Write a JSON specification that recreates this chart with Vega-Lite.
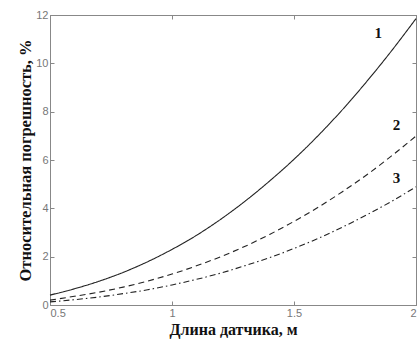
{
  "$schema": "https://vega.github.io/schema/vega-lite/v6.json",
  "width": 366,
  "height": 290,
  "autosize": {"type": "none"},
  "padding": {"left": 50, "top": 15, "right": 2, "bottom": 35},
  "background": "white",
  "config": {
    "view": {"stroke": "#888", "strokeWidth": 1},
    "axis": {
      "grid": false,
      "domainColor": "#888",
      "tickColor": "#888",
      "labelColor": "#777",
      "labelFont": "Liberation Sans",
      "labelFontSize": 11,
      "tickSize": -4,
      "labelPadding": 6,
      "labelExpr": "'' + datum.value"
    }
  },
  "datasets": {
    "curves": [
      {"x": 0.5, "y": 0.41, "s": "1"}, {"x": 0.6, "y": 0.67, "s": "1"}, {"x": 0.7, "y": 0.98, "s": "1"}, {"x": 0.8, "y": 1.35, "s": "1"},
      {"x": 0.9, "y": 1.79, "s": "1"}, {"x": 1.0, "y": 2.3, "s": "1"}, {"x": 1.1, "y": 2.88, "s": "1"}, {"x": 1.2, "y": 3.55, "s": "1"},
      {"x": 1.3, "y": 4.3, "s": "1"}, {"x": 1.4, "y": 5.13, "s": "1"}, {"x": 1.5, "y": 6.03, "s": "1"}, {"x": 1.6, "y": 7.02, "s": "1"},
      {"x": 1.7, "y": 8.1, "s": "1"}, {"x": 1.8, "y": 9.27, "s": "1"}, {"x": 1.9, "y": 10.52, "s": "1"}, {"x": 2.0, "y": 11.85, "s": "1"},
      {"x": 0.5, "y": 0.2, "s": "2"}, {"x": 0.6, "y": 0.36, "s": "2"}, {"x": 0.7, "y": 0.53, "s": "2"}, {"x": 0.8, "y": 0.74, "s": "2"},
      {"x": 0.9, "y": 0.99, "s": "2"}, {"x": 1.0, "y": 1.28, "s": "2"}, {"x": 1.1, "y": 1.62, "s": "2"}, {"x": 1.2, "y": 2.0, "s": "2"},
      {"x": 1.3, "y": 2.43, "s": "2"}, {"x": 1.4, "y": 2.92, "s": "2"}, {"x": 1.5, "y": 3.46, "s": "2"}, {"x": 1.6, "y": 4.05, "s": "2"},
      {"x": 1.7, "y": 4.7, "s": "2"}, {"x": 1.8, "y": 5.4, "s": "2"}, {"x": 1.9, "y": 6.17, "s": "2"}, {"x": 2.0, "y": 6.99, "s": "2"},
      {"x": 0.5, "y": 0.13, "s": "3"}, {"x": 0.6, "y": 0.22, "s": "3"}, {"x": 0.7, "y": 0.33, "s": "3"}, {"x": 0.8, "y": 0.47, "s": "3"},
      {"x": 0.9, "y": 0.63, "s": "3"}, {"x": 1.0, "y": 0.83, "s": "3"}, {"x": 1.1, "y": 1.06, "s": "3"}, {"x": 1.2, "y": 1.32, "s": "3"},
      {"x": 1.3, "y": 1.63, "s": "3"}, {"x": 1.4, "y": 1.96, "s": "3"}, {"x": 1.5, "y": 2.34, "s": "3"}, {"x": 1.6, "y": 2.76, "s": "3"},
      {"x": 1.7, "y": 3.23, "s": "3"}, {"x": 1.8, "y": 3.74, "s": "3"}, {"x": 1.9, "y": 4.29, "s": "3"}, {"x": 2.0, "y": 4.89, "s": "3"}
    ],
    "labels": [
      {"x": 1.845, "y": 11.25, "t": "1"},
      {"x": 1.92, "y": 7.45, "t": "2"},
      {"x": 1.92, "y": 5.25, "t": "3"}
    ]
  },
  "layer": [
    {
      "data": {"name": "curves"},
      "mark": {"type": "line", "strokeWidth": 1.1, "color": "#222", "interpolate": "monotone"},
      "encoding": {
        "x": {"field": "x", "type": "quantitative", "scale": {"domain": [0.5, 2], "nice": false},
          "axis": {"values": [0.5, 1, 1.5, 2], "title": "Длина датчика, м", "titleFont": "Liberation Serif", "titleFontSize": 16, "titleFontWeight": "bold", "titleColor": "#111", "titlePadding": 3}},
        "y": {"field": "y", "type": "quantitative", "scale": {"domain": [0, 12], "nice": false},
          "axis": {"values": [0, 2, 4, 6, 8, 10, 12], "title": "Относительная погрешность, %", "titleFont": "Liberation Serif", "titleFontSize": 16.5, "titleFontWeight": "bold", "titleColor": "#111", "titlePadding": 2}},
        "strokeDash": {"field": "s", "type": "nominal",
          "scale": {"domain": ["1", "2", "3"], "range": [[1, 0], [6, 4], [6, 3, 1.5, 3]]}, "legend": null}
      }
    },
    {
      "data": {"name": "labels"},
      "mark": {"type": "text", "font": "Liberation Serif", "fontSize": 15, "fontWeight": "bold", "color": "#111"},
      "encoding": {
        "x": {"field": "x", "type": "quantitative", "axis": {"orient": "top", "values": [0.5, 1, 1.5, 2], "labels": false, "title": null}},
        "y": {"field": "y", "type": "quantitative", "axis": {"orient": "right", "values": [0, 2, 4, 6, 8, 10, 12], "labels": false, "title": null}},
        "text": {"field": "t"}
      }
    }
  ],
  "resolve": {"axis": {"x": "independent", "y": "independent"}}
}
